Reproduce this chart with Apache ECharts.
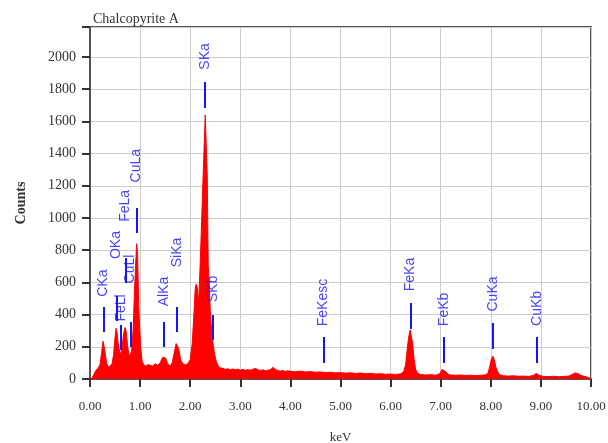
<!DOCTYPE html>
<html><head><meta charset="utf-8">
<script src="https://cdn.jsdelivr.net/npm/echarts@6/dist/echarts.min.js"></script>
<style>html,body{margin:0;padding:0;background:#fff}#c{width:608px;height:443px}</style>
</head><body><div id="c"></div>
<script>
// Spectrum (keV, counts)
const energy = [0.00,0.04,0.08,0.12,0.16,0.20,0.23,0.26,0.28,0.30,0.33,0.36,0.40,0.44,0.47,0.50,0.52,0.54,0.56,0.58,
0.61,0.64,0.67,0.70,0.72,0.75,0.78,0.80,0.83,0.86,0.89,0.91,0.93,0.95,0.97,0.99,1.01,1.04,1.08,1.12,
1.16,1.20,1.25,1.30,1.35,1.40,1.45,1.48,1.51,1.55,1.60,1.64,1.68,1.72,1.74,1.77,1.81,1.85,1.90,1.95,
2.00,2.04,2.07,2.10,2.12,2.14,2.17,2.20,2.23,2.26,2.28,2.30,2.32,2.34,2.36,2.38,2.40,2.43,2.46,2.49,
2.52,2.56,2.60,2.65,2.70,2.75,2.80,2.85,2.90,2.95,3.00,3.05,3.10,3.15,3.20,3.25,3.30,3.35,3.40,3.45,
3.50,3.55,3.60,3.65,3.70,3.75,3.80,3.85,3.90,3.95,4.00,4.10,4.20,4.30,4.40,4.50,4.60,4.70,4.80,4.90,
5.00,5.10,5.20,5.30,5.40,5.50,5.60,5.70,5.80,5.90,6.00,6.10,6.20,6.26,6.30,6.33,6.36,6.39,6.41,6.44,
6.47,6.50,6.54,6.60,6.70,6.80,6.90,6.98,7.03,7.06,7.10,7.15,7.20,7.30,7.40,7.50,7.60,7.70,7.80,7.90,
7.95,7.98,8.01,8.04,8.07,8.10,8.13,8.17,8.25,8.35,8.45,8.55,8.65,8.75,8.85,8.91,8.96,9.05,9.15,9.25,
9.35,9.45,9.55,9.62,9.68,9.74,9.80,9.90,9.96,10.00];
const counts = [0,5,30,55,65,90,160,235,240,170,100,75,80,95,150,260,315,290,230,190,
150,200,280,320,300,210,140,130,170,300,560,700,840,780,480,330,200,110,85,80,
90,85,80,95,85,100,135,145,130,95,80,100,160,220,232,190,120,95,88,95,
120,220,380,560,590,570,480,720,1000,1280,1280,1640,1640,1270,700,600,430,290,210,150,
110,80,70,66,60,64,57,62,58,61,55,60,54,58,55,60,66,58,53,57,
51,55,58,72,60,52,49,53,47,51,48,45,49,44,46,42,44,40,42,38,
40,36,39,34,37,33,35,31,33,29,31,28,32,45,90,180,260,305,295,220,
120,60,35,28,25,27,24,32,60,68,45,30,25,23,25,22,24,21,23,26,
40,80,120,142,120,75,50,28,20,18,20,17,18,16,22,35,24,16,15,17,
14,16,18,27,38,34,22,14,8,0];

// Peak annotations (label, line energy, label centre count, marker line low/high count)
const peakNames = ['CKa','OKa','FeLl','FeLa','CuLl','CuLa','AlKa','SiKa','SKa','SKb','FeKesc','FeKa','FeKb','CuKa','CuKb'];
const peakEnergy = [0.27,0.53,0.615,0.71,0.81,0.93,1.48,1.73,2.30,2.46,4.66,6.40,7.06,8.04,8.92];
const peakTextY = [595,832,441,1075,683,1325,543,786,2003,559,475,649,432,528,438];
const peakLineLow = [292,360,180,596,199,907,199,292,1683,242,99,311,99,186,99];
const peakLineHigh = [447,516,335,752,354,1062,354,447,1845,398,261,472,261,348,261];

const xTickValues = [0,1,2,3,4,5,6,7,8,9,10];
const yTickStep = 200;

const spectrum = energy.map((e, i) => [e, counts[i]]);
const labelPts = peakNames.map((n, i) => ({ name: n, value: [peakEnergy[i], peakTextY[i]] }));
const markLines = peakNames.map((n, i) => [
  { coord: [peakEnergy[i], peakLineLow[i]] },
  { coord: [peakEnergy[i], peakLineHigh[i]] }
]);

const serif = 'Liberation Serif';
const chart = echarts.init(document.getElementById('c'), null, { renderer: 'canvas' });
chart.setOption({
  animation: false,
  backgroundColor: '#fff',
  title: {
    text: 'Chalcopyrite A', left: 88, top: 7,
    textStyle: { fontFamily: serif, fontSize: 14, fontWeight: 'normal', color: '#333' }
  },
  grid: {
    left: 90, right: 17, top: 27, bottom: 64,
    containLabel: false, outerBoundsMode: 'none',
    show: true, borderColor: '#555', borderWidth: 2, backgroundColor: 'transparent'
  },
  xAxis: {
    type: 'value', min: xTickValues[0], max: xTickValues[xTickValues.length - 1], interval: 1,
    name: 'keV', nameLocation: 'middle', nameGap: 52,
    nameTextStyle: { fontFamily: serif, fontSize: 13, color: '#333' },
    axisLine: { show: true, lineStyle: { color: '#555', width: 2 } },
    axisTick: { show: true, length: 8, inside: false, lineStyle: { color: '#333', width: 2 } },
    axisLabel: { margin: 21, fontFamily: serif, fontSize: 13, color: '#333', formatter: v => v.toFixed(2) },
    splitLine: { show: true, lineStyle: { color: '#cccccc', width: 1 } }
  },
  yAxis: {
    type: 'value', min: 0, max: 2186, interval: yTickStep,
    name: 'Counts', nameLocation: 'middle', nameGap: 62, nameRotate: 90,
    nameTextStyle: { fontFamily: serif, fontSize: 14, fontWeight: 'bold', color: '#333' },
    axisLine: { show: true, lineStyle: { color: '#555', width: 2 } },
    axisTick: { show: true, length: 8, inside: false, lineStyle: { color: '#333', width: 2 } },
    axisLabel: { margin: 14, fontFamily: serif, fontSize: 14, color: '#333',
      formatter: v => (v > 2000 ? '' : String(v)) },
    splitLine: { show: true, lineStyle: { color: '#cccccc', width: 1 } }
  },
  series: [
    {
      type: 'line', data: spectrum, showSymbol: false, symbol: 'none', smooth: false,
      lineStyle: { color: '#ff0000', width: 1 },
      areaStyle: { color: '#ff0000', opacity: 1 },
      z: 3
    },
    {
      type: 'scatter', data: labelPts, symbolSize: 0, z: 5,
      label: {
        show: true, position: 'inside', rotate: 90, formatter: p => p.name,
        fontFamily: 'Liberation Sans', fontSize: 14, color: '#1414ff',
        align: 'center', verticalAlign: 'middle'
      },
      markLine: {
        silent: true, symbol: ['none', 'none'], label: { show: false },
        lineStyle: { color: '#1414ff', width: 2, type: 'solid' },
        data: markLines
      }
    }
  ]
});
</script>
</body></html>
